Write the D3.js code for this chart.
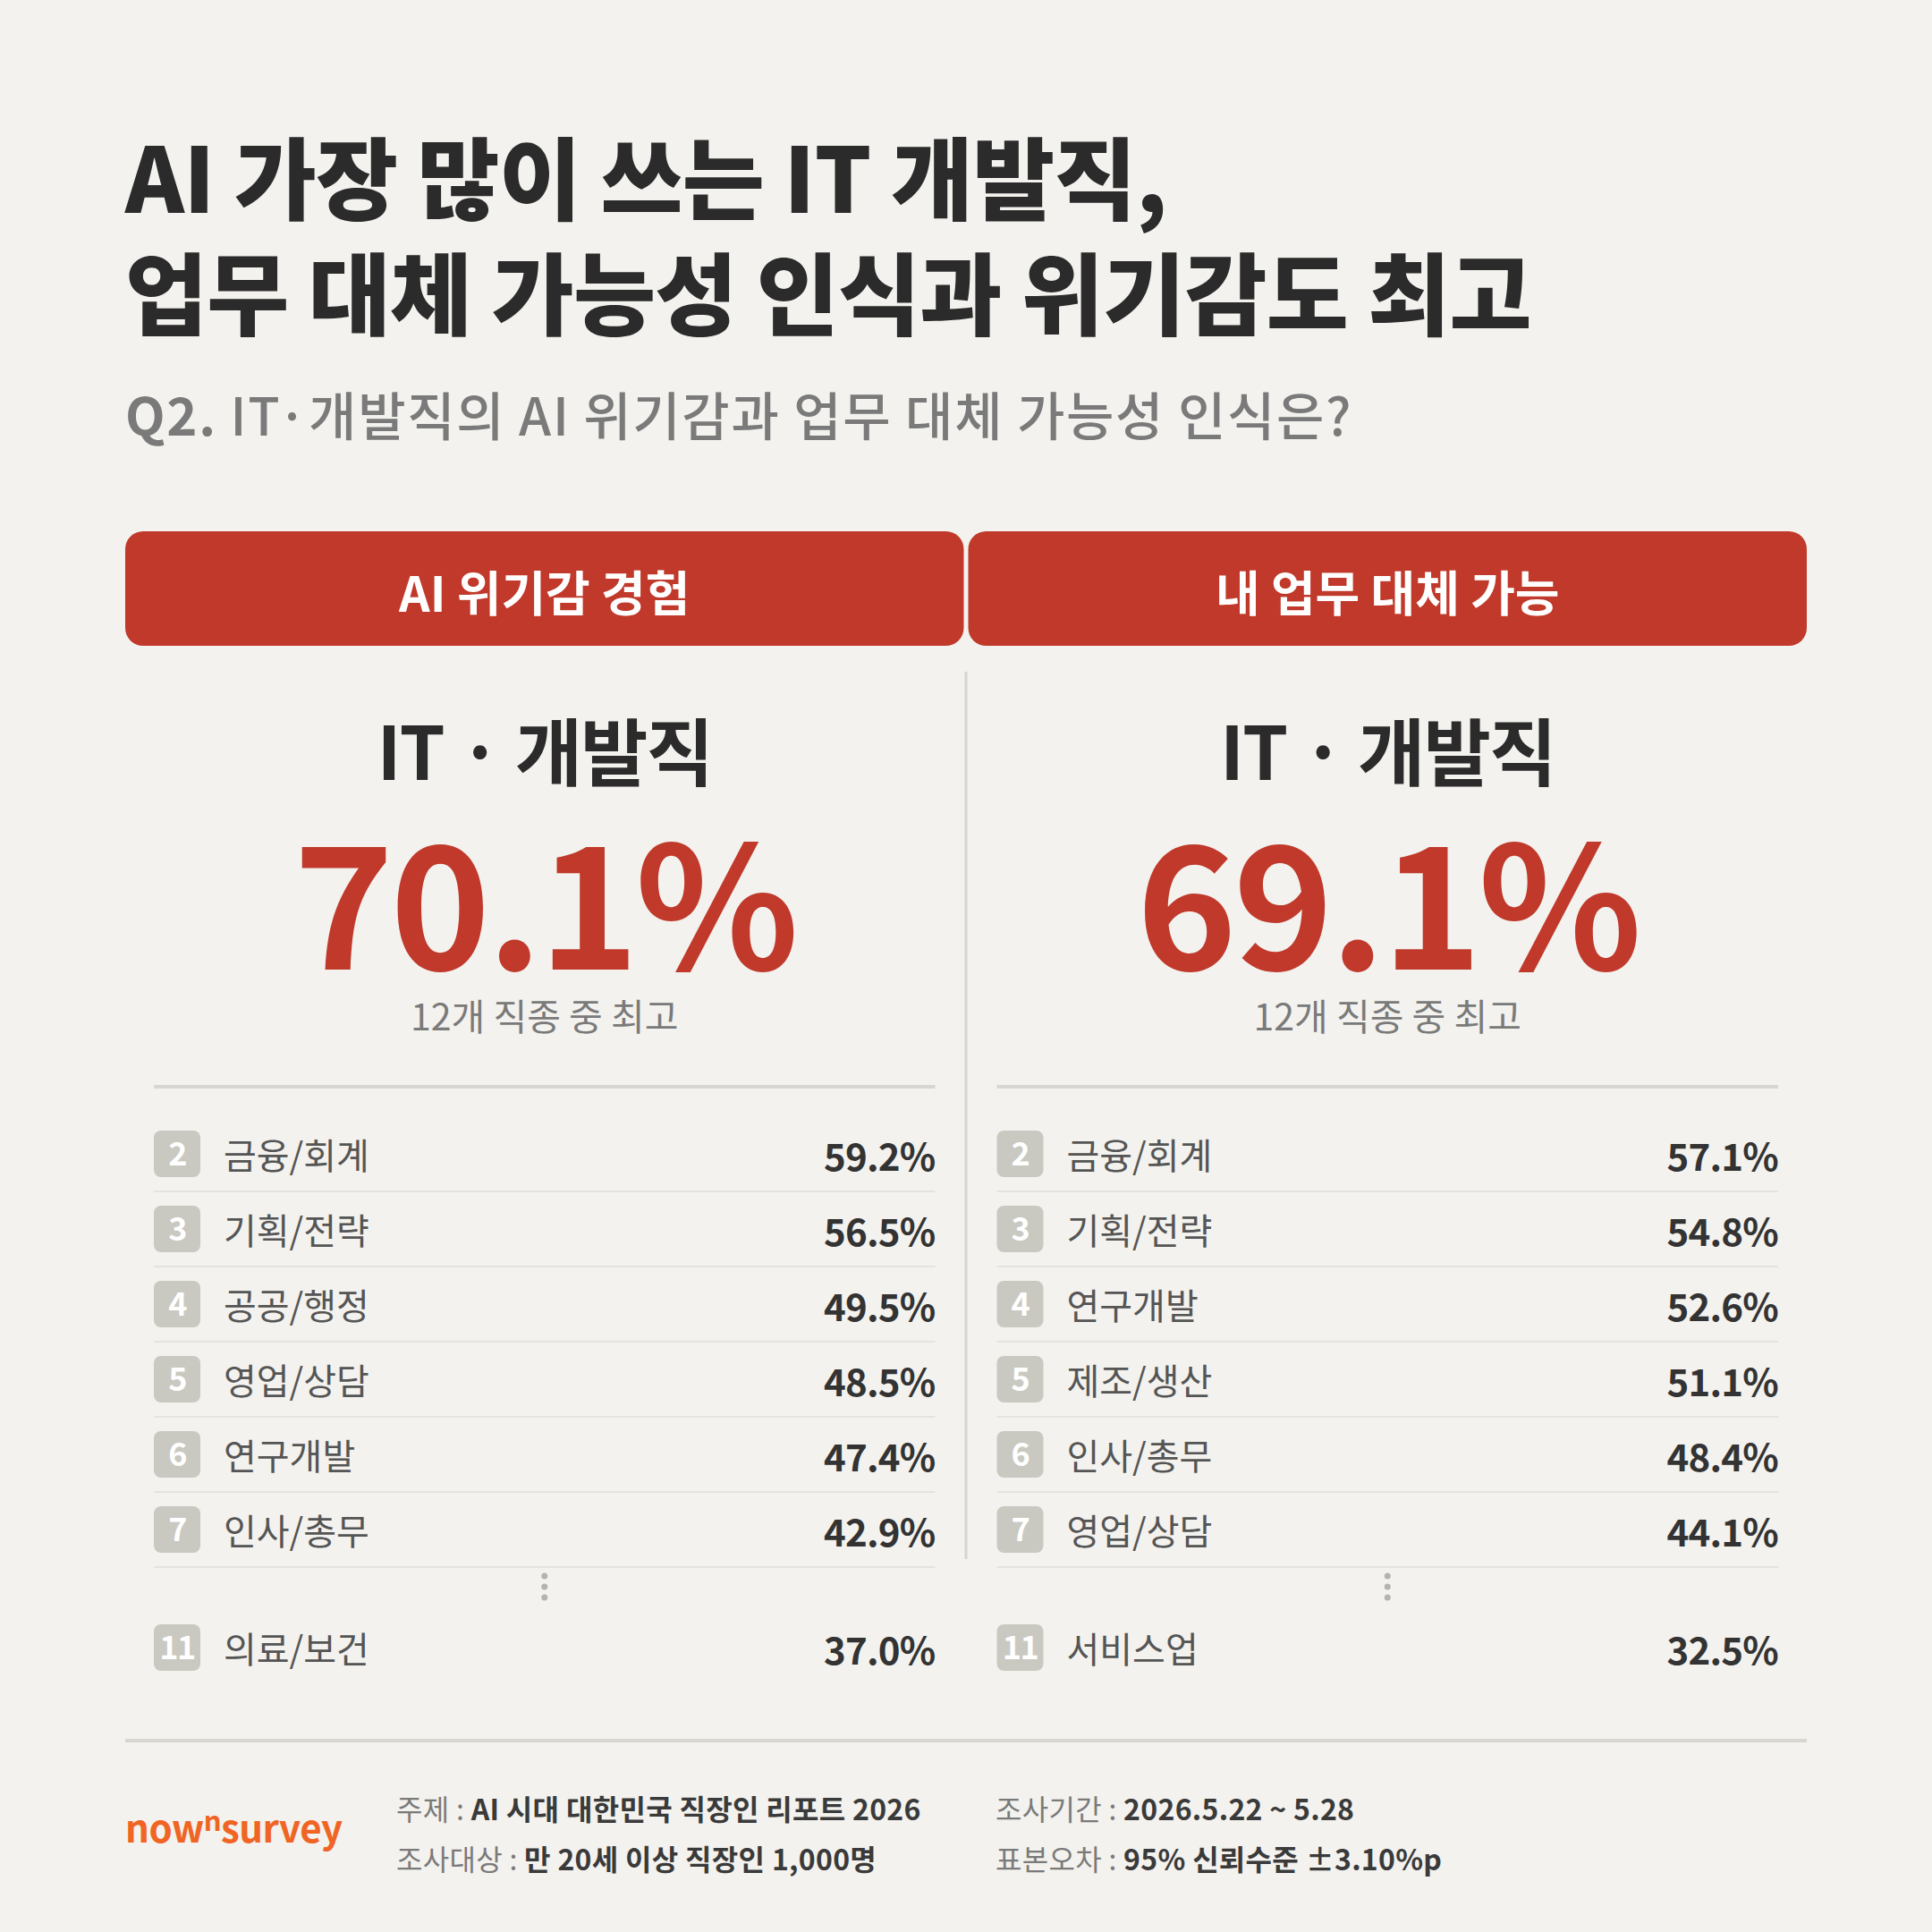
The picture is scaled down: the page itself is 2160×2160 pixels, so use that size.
<!DOCTYPE html>
<html>
<head>
<meta charset="utf-8">
<script src="https://cdn.jsdelivr.net/npm/d3@7"></script>
<style>
  html, body { margin: 0; padding: 0; background: #f3f2ee; }
  svg { display: block; }
  text { font-family: "Noto Sans CJK KR", "Noto Sans", sans-serif; }
</style>
</head>
<body>
<div id="chart"></div>
<script>
// Data
const titleLines = ["AI 가장 많이 쓰는 IT 개발직,", "업무 대체 가능성 인식과 위기감도 최고"];
const subtitleHead = "Q2.";
const subtitleRest = " IT·개발직의 AI 위기감과 업무 대체 가능성 인식은?";
const panelTitles = ["AI 위기감 경험", "내 업무 대체 가능"];
const topJobs = ["IT · 개발직", "IT · 개발직"];
const topValues = [70.1, 69.1];
const topNote = "12개 직종 중 최고";
const ranks = [2, 3, 4, 5, 6, 7, 11];
const leftJobs = ["금융/회계", "기획/전략", "공공/행정", "영업/상담", "연구개발", "인사/총무", "의료/보건"];
const leftValues = [59.2, 56.5, 49.5, 48.5, 47.4, 42.9, 37.0];
const rightJobs = ["금융/회계", "기획/전략", "연구개발", "제조/생산", "인사/총무", "영업/상담", "서비스업"];
const rightValues = [57.1, 54.8, 52.6, 51.1, 48.4, 44.1, 32.5];
const footerLabels = [["주제", "조사대상"], ["조사기간", "표본오차"]];
const footerValues = [["AI 시대 대한민국 직장인 리포트 2026", "만 20세 이상 직장인 1,000명"],
                      ["2026.5.22 ~ 5.28", "95% 신뢰수준 ±3.10%p"]];

const W = 2160, H = 2160;
const red = "#c0392b", dark = "#2b2b2b", gray = "#7a7a7a";

const svg = d3.select("#chart").append("svg")
    .attr("width", W).attr("height", H);

svg.append("rect").attr("width", W).attr("height", H).attr("fill", "#f3f2ee");

// Title
svg.append("g").selectAll("text")
    .data(titleLines)
    .enter().append("text")
    .attr("x", 140)
    .attr("y", (d, i) => 238 + i * 129)
    .attr("font-size", 100)
    .attr("font-weight", 900)
    .attr("letter-spacing", -0.7)
    .attr("fill", dark)
    .text(d => d);

// Subtitle
const sub = svg.append("text")
    .attr("x", 140).attr("y", 487)
    .attr("font-size", 58)
    .attr("letter-spacing", 1.7)
    .attr("fill", gray);
sub.append("tspan").attr("font-weight", 700).text(subtitleHead);
sub.append("tspan").attr("font-weight", 500).text(subtitleRest);

// Panel scale
const panels = [0, 1];
const xPanel = d3.scaleBand().domain(panels).range([140, 2020]).paddingInner(0.0053);
const bw = xPanel.bandwidth();
const pad = 32;

// Header boxes
const head = svg.append("g").selectAll("g")
    .data(panels)
    .enter().append("g");

head.append("rect")
    .attr("x", d => xPanel(d))
    .attr("y", 594)
    .attr("width", bw)
    .attr("height", 128)
    .attr("rx", 20)
    .attr("fill", red);

head.append("text")
    .attr("x", d => xPanel(d) + bw / 2)
    .attr("y", 684)
    .attr("text-anchor", "middle")
    .attr("font-size", 54)
    .attr("font-weight", 700)
    .attr("fill", "#fff")
    .text(d => panelTitles[d]);

// Divider between panels
svg.append("line")
    .attr("x1", 1080).attr("x2", 1080)
    .attr("y1", 751).attr("y2", 1743)
    .attr("stroke", "#d6d5cf")
    .attr("stroke-width", 3);

// Top job + big value
const hero = svg.append("g").selectAll("g")
    .data(panels)
    .enter().append("g");

hero.append("text")
    .attr("x", d => xPanel(d) + bw / 2)
    .attr("y", 872)
    .attr("text-anchor", "middle")
    .attr("font-size", 82)
    .attr("font-weight", 700)
    .attr("letter-spacing", -2)
    .attr("fill", dark)
    .text(d => topJobs[d]);

hero.append("text")
    .attr("x", d => xPanel(d) + bw / 2)
    .attr("y", 1084)
    .attr("text-anchor", "middle")
    .attr("font-size", 190)
    .attr("font-weight", 700)
    .attr("letter-spacing", -4)
    .attr("fill", red)
    .text(d => topValues[d].toFixed(1) + "%");

hero.append("text")
    .attr("x", d => xPanel(d) + bw / 2)
    .attr("y", 1152)
    .attr("text-anchor", "middle")
    .attr("font-size", 41)
    .attr("fill", gray)
    .text(topNote);

hero.append("line")
    .attr("x1", d => xPanel(d) + pad)
    .attr("x2", d => xPanel(d) + bw - pad)
    .attr("y1", 1215).attr("y2", 1215)
    .attr("stroke", "#d7d6d0")
    .attr("stroke-width", 4);

// Ranking rows
const rowY = d3.scaleLinear().domain([2, 7]).range([1290, 1710]);
const yOf = r => r <= 7 ? rowY(r) : rowY(7) + 132;

const jobs = [leftJobs, rightJobs];
const vals = [leftValues, rightValues];

panels.forEach(p => {
    const x0 = xPanel(p) + pad;
    const x1 = xPanel(p) + bw - pad;
    const rows = ranks.map((r, i) => ({ rank: r, job: jobs[p][i], value: vals[p][i] }));

    const g = svg.append("g");
    const row = g.selectAll("g")
        .data(rows)
        .enter().append("g")
        .attr("transform", d => "translate(0," + yOf(d.rank) + ")");

    row.filter(d => d.rank <= 7).append("line")
        .attr("x1", x0).attr("x2", x1)
        .attr("y1", 42).attr("y2", 42)
        .attr("stroke", "#e4e3dd")
        .attr("stroke-width", 2);

    row.append("rect")
        .attr("x", x0)
        .attr("y", -26)
        .attr("width", 52)
        .attr("height", 52)
        .attr("rx", 8)
        .attr("fill", "#c9c8c1");

    row.append("text")
        .attr("x", x0 + 26)
        .attr("y", 13)
        .attr("text-anchor", "middle")
        .attr("font-size", 36)
        .attr("font-weight", 700)
        .attr("letter-spacing", -1.5)
        .attr("fill", "#fff")
        .text(d => d.rank);

    row.append("text")
        .attr("x", x0 + 78)
        .attr("y", 17)
        .attr("font-size", 40)
        .attr("fill", "#555")
        .text(d => d.job);

    row.append("text")
        .attr("x", x1)
        .attr("y", 19)
        .attr("text-anchor", "end")
        .attr("font-size", 42)
        .attr("font-weight", 700)
        .attr("letter-spacing", -0.8)
        .attr("fill", "#333")
        .text(d => d.value.toFixed(1) + "%");

    // vertical ellipsis
    g.selectAll("circle")
        .data([0, 1, 2])
        .enter().append("circle")
        .attr("cx", xPanel(p) + bw / 2)
        .attr("cy", d => rowY(7) + 52 + d * 12)
        .attr("r", 3.5)
        .attr("fill", "#b5b3ad");
});

// Footer
svg.append("line")
    .attr("x1", 140).attr("x2", 2020)
    .attr("y1", 1946).attr("y2", 1946)
    .attr("stroke", "#d7d6d0")
    .attr("stroke-width", 4);

const logo = svg.append("text")
    .attr("x", 140).attr("y", 2060)
    .attr("font-family", "'Noto Sans', sans-serif")
    .attr("font-size", 42)
    .attr("font-weight", 600)
    .attr("letter-spacing", -0.5)
    .attr("fill", "#f06424");
logo.append("tspan").text("now");
logo.append("tspan").attr("font-size", 31).attr("dy", -13).text("n");
logo.append("tspan").attr("dy", 13).text("survey");

const footX = [443, 1113];
footX.forEach((fx, c) => {
    [0, 1].forEach(r => {
        const t = svg.append("text")
            .attr("x", fx)
            .attr("y", 2035 + r * 56)
            .attr("font-size", 32)
            .attr("letter-spacing", 0.3);
        t.append("tspan").attr("fill", gray).text(footerLabels[c][r] + " : ");
        t.append("tspan").attr("fill", "#3a3a3a").attr("font-weight", 700).text(footerValues[c][r]);
    });
});
</script>
</body>
</html>
